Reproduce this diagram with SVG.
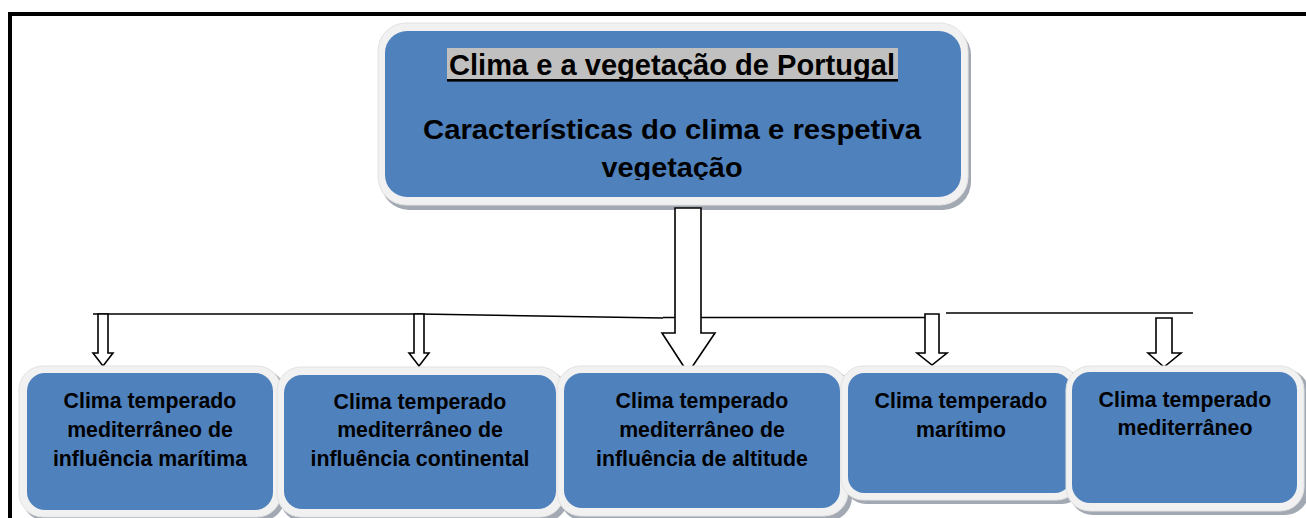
<svg xmlns="http://www.w3.org/2000/svg" width="1306" height="518" viewBox="0 0 1306 518">
<style>
.shadow{fill:#a3a9b3}
.outer{fill:#f1f1f1;stroke:#e2e2e2;stroke-width:1}
.inner{fill:#4f81bd}
.t{font-family:"Liberation Sans",Arial,sans-serif;font-weight:bold;fill:#000;text-anchor:middle}
.bt{font-size:21.3px}
.arrow{fill:#fff;stroke:#000;stroke-width:1.6;stroke-linejoin:miter}
.line{fill:none;stroke:#000;stroke-width:1.6}
</style>
<defs>
<clipPath id="mainclip"><rect x="380" y="25" width="590" height="155"/></clipPath>
</defs>
<rect x="0" y="0" width="1306" height="518" fill="#fff"/>
<g id="frame">
<rect x="8" y="12" width="1298" height="4" fill="#000"/>
<rect x="8" y="12" width="4" height="506" fill="#000"/>
</g>
<g id="main">
<rect class="shadow" x="381" y="27" width="590" height="183" rx="28"/>
<rect class="outer" x="378" y="23" width="590" height="182" rx="28"/>
<rect class="inner" x="385" y="31" width="576" height="166" rx="22"/>
<rect x="447" y="48" width="451" height="33" fill="#c0c0c0"/>
<rect x="447" y="79" width="451" height="2.6" fill="#000"/>
<text class="t" x="672" y="75" font-size="29" textLength="446" lengthAdjust="spacingAndGlyphs">Clima e a vegetação de Portugal</text>
<g clip-path="url(#mainclip)">
<text class="t" x="672" y="139" font-size="28" textLength="498" lengthAdjust="spacingAndGlyphs">Características do clima e respetiva</text>
<text class="t" x="672" y="177" font-size="28" textLength="141" lengthAdjust="spacingAndGlyphs">vegetação</text>
</g>
</g>
<g id="connectors">
<polyline class="line" points="93,314 420,314 663,318"/>
<line class="line" x1="663" y1="317.5" x2="925" y2="317.5"/>
<line class="line" x1="946" y1="313" x2="1193" y2="313"/>
<polygon class="arrow" points="675,208 701,208 701,333 715,333 688,373 662,333 675,333"/>
<polygon class="arrow" points="98,314 108,314 108,353 113,353 103,366 93,353 98,353"/>
<polygon class="arrow" points="414,314 424,314 424,353 429,353 419,366 409,353 414,353"/>
<polygon class="arrow" points="925,314 939,314 939,353 947,353 932,365 917,353 925,353"/>
<polygon class="arrow" points="1156,318 1172,318 1172,353 1181,353 1164,367 1148,353 1156,353"/>
</g>
<g id="box1">
<rect class="shadow" x="22" y="369" width="263" height="152" rx="24"/>
<rect class="outer" x="19" y="366" width="262" height="151" rx="24"/>
<rect class="inner" x="27" y="373" width="246" height="137" rx="18"/>
<text class="t bt" x="150" y="408">Clima temperado</text>
<text class="t bt" x="150" y="437">mediterrâneo de</text>
<text class="t bt" x="150" y="466">influência marítima</text>
</g>
<g id="box2">
<rect class="shadow" x="280" y="370" width="288" height="152" rx="24"/>
<rect class="outer" x="277" y="367" width="287" height="150" rx="24"/>
<rect class="inner" x="284" y="375" width="272" height="134" rx="18"/>
<text class="t bt" x="420" y="409">Clima temperado</text>
<text class="t bt" x="420" y="437">mediterrâneo de</text>
<text class="t bt" x="420" y="466">influência continental</text>
</g>
<g id="box3">
<rect class="shadow" x="560" y="369" width="292" height="152" rx="24"/>
<rect class="outer" x="557" y="366" width="291" height="150" rx="24"/>
<rect class="inner" x="564" y="373" width="276" height="135" rx="18"/>
<text class="t bt" x="702" y="408">Clima temperado</text>
<text class="t bt" x="702" y="437">mediterrâneo de</text>
<text class="t bt" x="702" y="466">influência de altitude</text>
</g>
<g id="box4">
<rect class="shadow" x="844" y="369" width="240" height="135" rx="22"/>
<rect class="outer" x="841" y="366" width="238" height="134" rx="22"/>
<rect class="inner" x="848" y="373" width="223" height="120" rx="16"/>
<text class="t bt" x="961" y="408">Clima temperado</text>
<text class="t bt" x="961" y="437">marítimo</text>
</g>
<g id="box5">
<rect class="shadow" x="1069" y="369" width="240" height="146" rx="24"/>
<rect class="outer" x="1066" y="366" width="238" height="145" rx="24"/>
<rect class="inner" x="1072" y="372" width="225" height="131" rx="18"/>
<text class="t bt" x="1185" y="407">Clima temperado</text>
<text class="t bt" x="1185" y="435">mediterrâneo</text>
</g>
</svg>
